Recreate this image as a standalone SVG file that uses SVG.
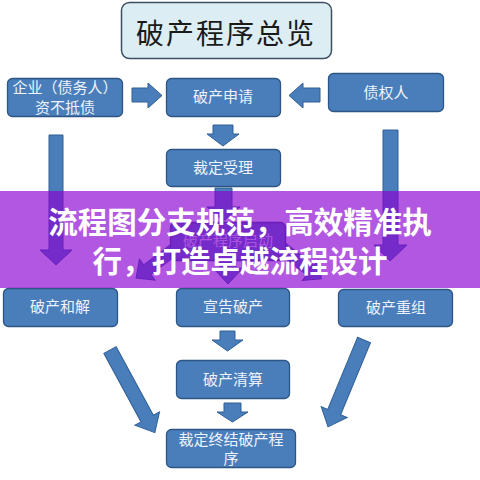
<svg xmlns="http://www.w3.org/2000/svg" width="480" height="480" viewBox="0 0 480 480">
<style>
.box{fill:#4a7ebb;stroke:#2d5585;stroke-width:1.3}
.t{font-family:"Noto Sans CJK SC","Noto Sans",sans-serif;font-size:15px;fill:#eef3f9;text-anchor:middle}
.arr{fill:#4a7ebb;stroke:#2f5f96;stroke-width:1}
.head{font-family:"Noto Sans CJK SC","Noto Sans",sans-serif;font-size:29.5px;font-weight:bold;fill:#ffffff;text-anchor:middle}
</style>
<defs>
<path id="a94" d="M-7,0 H7 V78 H14 L0,94 L-14,78 H-7 Z"/>
<path id="a50" d="M-6,0 H6 V36 H13 L0,50 L-13,36 H-6 Z"/>
</defs>
<rect width="480" height="480" fill="#ffffff"/>

<g id="title">
<rect x="121.5" y="2.5" width="210" height="56" rx="8" fill="#dcedf4" stroke="#3b4f60" stroke-width="1.5"/>
<text x="226" y="44" font-family="Noto Sans CJK SC,sans-serif" font-size="28" fill="#1a1a1a" text-anchor="middle" letter-spacing="2">破产程序总览</text>
</g>

<g id="connectors">
<path class="arr" d="M132,88 H148 V83 L162,95.5 L148,108 V102 H132 Z"/>
<path class="arr" d="M320,88 H303 V83 L289,95.5 L303,108 V102 H320 Z"/>
<path class="arr" d="M213,125 H233 V134 H239 L223,146 L207,134 H213 Z"/>
<path class="arr" d="M49,135 H63 V250 H72 L56,265 L40,250 H49 Z"/>
<path class="arr" d="M383,130 H398 V245 H407 L390,261 L374,245 H383 Z"/>
<path class="arr" d="M215,188 H232 V207 H240 L223.5,221 L207,207 H215 Z"/>
<use href="#a50" class="arr" transform="translate(176,248) rotate(53)"/>
<use href="#a50" class="arr" transform="translate(282,248) rotate(-52)"/>
<path class="arr" d="M220,262 H236 V268 H243 L228,284 L213,268 H220 Z"/>
<path class="arr" d="M220,331 H235 V340 H243 L227.5,351 L212,340 H220 Z"/>
<path class="arr" d="M224,403 H241 V412 H248 L232.5,422 L217,412 H224 Z"/>
<use href="#a94" class="arr" transform="translate(110,350) rotate(-28.5)"/>
<use href="#a94" class="arr" transform="translate(364,340) rotate(22.5)"/>
</g>

<g id="debtor">
<rect class="box" x="7.5" y="78.5" width="115" height="38" rx="5"/>
<text class="t" x="65" y="93" font-size="13">企业（债务人）</text>
<text class="t" x="65" y="112.5" font-size="13">资不抵债</text>
</g>
<g id="apply">
<rect class="box" x="166.5" y="78.5" width="114" height="38" rx="5"/>
<text class="t" x="223" y="102">破产申请</text>
</g>
<g id="creditor">
<rect class="box" x="328.5" y="73.5" width="115" height="38" rx="5"/>
<text class="t" x="386" y="98">债权人</text>
</g>
<g id="accept">
<rect class="box" x="166.5" y="149.5" width="114" height="37" rx="5"/>
<text class="t" x="223" y="173">裁定受理</text>
</g>
<g id="start">
<rect class="box" x="170.5" y="222.5" width="115" height="38" rx="5"/>
<text class="t" x="228" y="246" font-size="14">破产程序启动</text>
</g>
<g id="settle">
<rect class="box" x="3.5" y="288.5" width="114" height="38" rx="5"/>
<text class="t" x="60" y="312">破产和解</text>
</g>
<g id="declare">
<rect class="box" x="176.5" y="288.5" width="113" height="38" rx="5"/>
<text class="t" x="233" y="312">宣告破产</text>
</g>
<g id="reorg">
<rect class="box" x="338.5" y="289.5" width="114" height="37" rx="5"/>
<text class="t" x="396" y="313">破产重组</text>
</g>
<g id="liquidate">
<rect class="box" x="176.5" y="360.5" width="113" height="38" rx="5"/>
<text class="t" x="233" y="385">破产清算</text>
</g>
<g id="terminate">
<rect class="box" x="166.5" y="429.5" width="129" height="38" rx="5"/>
<text class="t" x="231" y="444.5" font-size="13.5">裁定终结破产程</text>
<text class="t" x="231" y="464" font-size="13.5">序</text>
</g>

<g id="banner">
<rect x="0" y="191" width="480" height="97" fill="#8a00d2" opacity="0.66"/>
<text class="head" x="240" y="233">流程图分支规范，高效精准执</text>
<text class="head" x="240" y="272">行，打造卓越流程设计</text>
</g>
</svg>
